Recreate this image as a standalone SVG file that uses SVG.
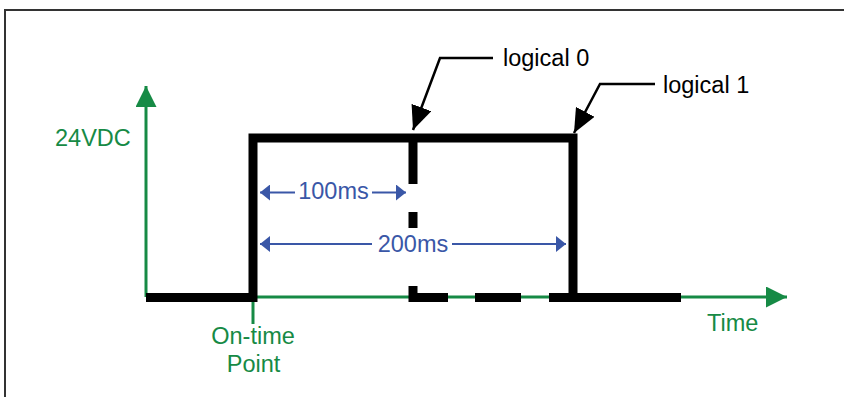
<svg xmlns="http://www.w3.org/2000/svg" width="844" height="397" viewBox="0 0 844 397">
<style>
text{font-family:"Liberation Sans",Arial,sans-serif;font-size:23.5px}
.g{fill:#168a45}
.b{fill:#3a57a7}
.k{fill:#000}
.ax{stroke:#168a45;stroke-width:3;fill:none}
.dim{stroke:#3a57a7;stroke-width:2.2;fill:none}
.sig{stroke:#000;stroke-width:9;fill:none;stroke-linecap:butt;stroke-linejoin:miter}
.call{stroke:#000;stroke-width:2.5;fill:none}
</style>
<defs>
<marker id="ag" markerUnits="userSpaceOnUse" markerWidth="21" markerHeight="21" refX="21" refY="10.5" orient="auto"><path d="M0,0 L21,10.5 L0,21 z" fill="#168a45"/></marker>
<marker id="ab" markerUnits="userSpaceOnUse" markerWidth="10" markerHeight="16" refX="10" refY="8" orient="auto"><path d="M0,0 L10,8 L0,16 z" fill="#3a57a7"/></marker>
<marker id="ak" markerUnits="userSpaceOnUse" markerWidth="24" markerHeight="21" refX="24" refY="10.5" orient="auto"><path d="M0,0 L24,10.5 L0,21 z" fill="#000"/></marker>
</defs>
<rect x="5" y="10" width="900" height="500" fill="#fff" stroke="#333" stroke-width="2"/>
<g id="axes">
<line class="ax" x1="146" y1="297" x2="146" y2="86" marker-end="url(#ag)"/>
<line class="ax" x1="146" y1="297" x2="787" y2="297" marker-end="url(#ag)"/>
<line class="ax" x1="253" y1="297" x2="253" y2="324" stroke-width="2"/>
</g>
<g id="signal">
<path class="sig" d="M146,297.5 H253 V138 H573 V297.5 H681"/>
<path class="sig" d="M413,138 V184 M413,212 V228 M413,286 V297.5 H448 M475,297.5 H521 M549,297.5 H573"/>
</g>
<g id="connectors">
<path class="call" d="M493,58 H440 L413,130" marker-end="url(#ak)"/>
<path class="call" d="M655,84 H600 L574,133" marker-end="url(#ak)"/>
<line class="dim" x1="295" y1="192.5" x2="260" y2="192.5" marker-end="url(#ab)"/>
<line class="dim" x1="372" y1="192.5" x2="406" y2="192.5" marker-end="url(#ab)"/>
<line class="dim" x1="372" y1="244" x2="260" y2="244" marker-end="url(#ab)"/>
<line class="dim" x1="452" y1="244" x2="566" y2="244" marker-end="url(#ab)"/>
</g>
<g id="labels">
<text class="k" x="503" y="66">logical 0</text>
<text class="k" x="663" y="93">logical 1</text>
<text class="g" x="55" y="146">24VDC</text>
<text class="g" x="253" y="344" text-anchor="middle">On-time</text>
<text class="g" x="253.5" y="371.5" text-anchor="middle">Point</text>
<text class="g" x="707" y="331">Time</text>
<text class="b" x="333.5" y="199" text-anchor="middle">100ms</text>
<text class="b" x="413" y="251.5" text-anchor="middle">200ms</text>
</g>
</svg>
